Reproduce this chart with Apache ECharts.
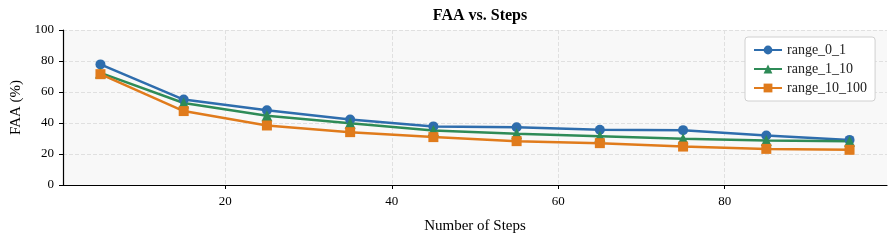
<!DOCTYPE html>
<html>
<head>
<meta charset="utf-8">
<script src="https://cdn.jsdelivr.net/npm/echarts@6/dist/echarts.min.js"></script>
<style>
  html, body { margin: 0; padding: 0; background: #fff; }
  #chart { width: 894px; height: 240px; }
</style>
</head>
<body>
<div id="chart"></div>
<script>
// steps on the x axis
const steps = [5, 15, 25, 35, 45, 55, 65, 75, 85, 95];
const xTicks = [20, 40, 60, 80];

// FAA (%) per range
const range_0_1 = [77.8, 55.1, 48.2, 42.3, 37.8, 37.3, 35.6, 35.4, 31.9, 29.1];
const range_1_10 = [72.3, 52.9, 44.7, 39.9, 35.2, 33.0, 31.5, 29.8, 28.7, 28.3];
const range_10_100 = [71.5, 47.7, 38.4, 34.1, 30.9, 28.3, 27.0, 24.8, 23.3, 22.7];

const font = "'Liberation Serif', 'DejaVu Serif', serif";

function makeSeries(name, values, color, symbol, size) {
  return {
    name: name,
    type: "line",
    data: steps.map((s, i) => [s, values[i]]),
    symbol: symbol,
    symbolSize: size,
    lineStyle: { color: color, width: 2.5 },
    itemStyle: { color: color },
    z: 3,
  };
}

const myChart = echarts.init(document.getElementById("chart"));
myChart.setOption({
  animation: false,
  textStyle: { fontFamily: font },
  title: {
    text: "FAA vs. Steps",
    left: 475,
    top: 3,
    textAlign: "center",
    textStyle: { fontFamily: font, fontSize: 16, fontWeight: "bold", color: "#000" },
  },
  grid: {
    left: 63,
    right: 7,
    top: 30,
    bottom: 55,
    show: true,
    backgroundColor: "#f8f8f8",
    borderWidth: 0,
  },
  legend: {
    left: 745,
    top: 37,
    orient: "vertical",
    backgroundColor: "#fff",
    borderColor: "#d0d0d0",
    borderWidth: 1,
    borderRadius: 3,
    padding: [6, 8, 6, 8],
    itemGap: 5,
    itemWidth: 28,
    itemHeight: 11,
    textStyle: { fontFamily: font, fontSize: 14, color: "#222" },
  },
  xAxis: {
    type: "value",
    min: 0.5,
    max: 99.5,
    name: "Number of Steps",
    nameLocation: "middle",
    nameGap: 34,
    nameTextStyle: { fontFamily: font, fontSize: 15, color: "#000" },
    axisLine: { show: true, onZero: false, lineStyle: { color: "#000", width: 1.2 } },
    axisTick: { show: true, length: 4, customValues: xTicks, lineStyle: { color: "#000" } },
    axisLabel: { customValues: xTicks, fontFamily: font, fontSize: 13, color: "#000", margin: 10 },
    splitLine: { show: true, lineStyle: { color: "#e0e0e0", type: "dashed", width: 1 } },
  },
  yAxis: {
    type: "value",
    min: 0,
    max: 100,
    interval: 20,
    name: "FAA (%)",
    nameLocation: "middle",
    nameGap: 38,
    nameTextStyle: { fontFamily: font, fontSize: 15, color: "#000" },
    axisLine: { show: true, lineStyle: { color: "#000", width: 1.2 } },
    axisTick: { show: true, length: 4, lineStyle: { color: "#000" } },
    axisLabel: { fontFamily: font, fontSize: 13, color: "#000", margin: 9 },
    splitLine: { show: true, lineStyle: { color: "#e0e0e0", type: "dashed", width: 1 } },
  },
  series: [
    makeSeries("range_0_1", range_0_1, "#2e6dad", "circle", 10),
    makeSeries("range_1_10", range_1_10, "#2e8b57", "triangle", 11),
    makeSeries("range_10_100", range_10_100, "#e07b1c", "rect", 10),
  ],
});
</script>
</body>
</html>
